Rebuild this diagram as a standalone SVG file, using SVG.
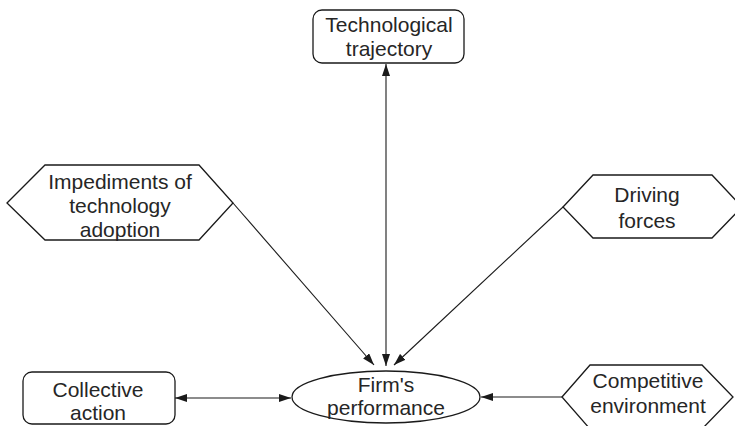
<svg xmlns="http://www.w3.org/2000/svg" width="735" height="426" viewBox="0 0 735 426">
  <defs>
    <marker id="head" viewBox="0 0 12 8" refX="12" refY="4" markerWidth="12" markerHeight="8" markerUnits="userSpaceOnUse" orient="auto-start-reverse">
      <path d="M0,0 L12,4 L0,8 Z" fill="#1a1a1a"/>
    </marker>
    <style>
      .shape { fill: #ffffff; stroke: #1a1a1a; stroke-width: 1.3; }
      .label { font-family: "Liberation Sans", Arial, sans-serif; font-size: 21px; fill: #262626; text-anchor: middle; }
      .link { stroke: #1a1a1a; stroke-width: 1.1; fill: none; }
    </style>
  </defs>
  <rect width="735" height="426" fill="#ffffff"/>

  <g id="connectors">
    <line class="link" x1="386" y1="366" x2="386" y2="64" marker-start="url(#head)" marker-end="url(#head)"/>
    <line class="link" x1="233" y1="203" x2="374" y2="365" marker-end="url(#head)"/>
    <line class="link" x1="563" y1="207" x2="394" y2="365" marker-end="url(#head)"/>
    <line class="link" x1="175" y1="398" x2="291" y2="398" marker-start="url(#head)" marker-end="url(#head)"/>
    <line class="link" x1="562" y1="397" x2="481" y2="397" marker-end="url(#head)"/>
  </g>

  <g id="technological-trajectory">
    <rect class="shape" x="313" y="10" width="151" height="53" rx="9"/>
    <text class="label" x="389" y="32">Technological</text>
    <text class="label" x="389" y="56">trajectory</text>
  </g>

  <g id="impediments">
    <polygon class="shape" points="7,203 45,165 199,165 233,203 199,240 45,240"/>
    <text class="label" x="120" y="189">Impediments of</text>
    <text class="label" x="120" y="213">technology</text>
    <text class="label" x="120" y="237">adoption</text>
  </g>

  <g id="driving-forces">
    <polygon class="shape" points="563,207 593,175 712,175 742,207 712,238 593,238"/>
    <text class="label" x="647" y="202">Driving</text>
    <text class="label" x="647" y="228">forces</text>
  </g>

  <g id="collective-action">
    <rect class="shape" x="23" y="372" width="152" height="52" rx="9"/>
    <text class="label" x="98" y="397">Collective</text>
    <text class="label" x="98" y="420">action</text>
  </g>

  <g id="firms-performance">
    <ellipse class="shape" cx="386" cy="397" rx="94" ry="26"/>
    <text class="label" x="386" y="392">Firm's</text>
    <text class="label" x="386" y="415">performance</text>
  </g>

  <g id="competitive-environment">
    <polygon class="shape" points="562,397 590,365 702,365 733,397 702,429 590,429"/>
    <text class="label" x="648" y="388">Competitive</text>
    <text class="label" x="648" y="413">environment</text>
  </g>
</svg>
